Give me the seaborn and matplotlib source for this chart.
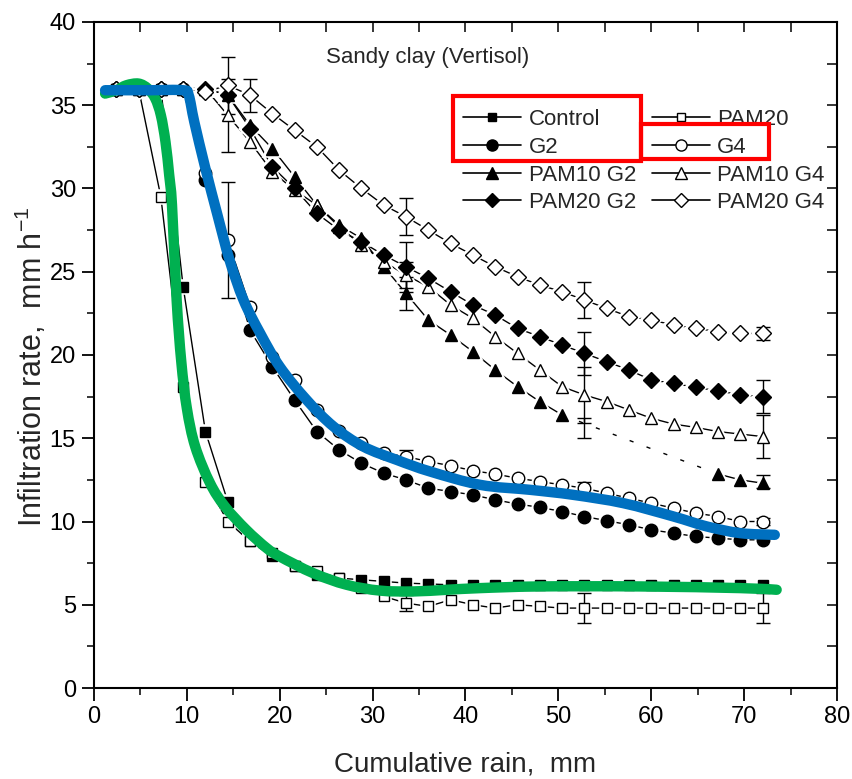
import numpy as np
import pandas as pd
import matplotlib
matplotlib.use("Agg")
import matplotlib.pyplot as plt
import seaborn as sns
from matplotlib.patches import Rectangle, PathPatch
from matplotlib.path import Path
from matplotlib.lines import Line2D
from matplotlib.ticker import MultipleLocator

# cumulative rain (mm) at each reading
rain = [2.4, 4.8, 7.2, 9.6, 12.0, 14.4, 16.8, 19.2, 21.6, 24.0,
        26.4, 28.8, 31.2, 33.6, 36.0, 38.4, 40.8, 43.2, 45.6, 48.0,
        50.4, 52.8, 55.2, 57.6, 60.0, 62.4, 64.8, 67.2, 69.6, 72.0]

control = [36, 36, 36, 24.1, 15.4, 11.2, 8.8, 7.9, 7.3, 6.8,
           6.6, 6.5, 6.4, 6.3, 6.25, 6.2, 6.2, 6.2, 6.2, 6.2,
           6.2, 6.2, 6.2, 6.2, 6.2, 6.2, 6.2, 6.2, 6.2, 6.2]
pam20 = [36, 36, 29.5, 18.1, 12.4, 10.0, 8.8, 8.1, 7.3, 7.0,
         6.6, 6.0, 5.5, 5.1, 4.9, 5.3, 5.0, 4.8, 5.0, 4.9,
         4.8, 4.8, 4.8, 4.8, 4.8, 4.8, 4.8, 4.8, 4.8, 4.8]
g2 = [36, 36, 36, 36, 30.5, 26.0, 21.5, 19.3, 17.3, 15.4,
      14.3, 13.5, 12.9, 12.5, 12.0, 11.8, 11.6, 11.3, 11.05, 10.85,
      10.6, 10.3, 10.05, 9.8, 9.5, 9.3, 9.1, 9.0, 8.9, 8.9]
g4 = [36, 36, 36, 36, 30.9, 26.9, 22.9, 19.9, 18.5, 16.7,
      15.45, 14.7, 14.1, 13.9, 13.6, 13.35, 13.05, 12.85, 12.6, 12.4,
      12.2, 12.0, 11.7, 11.4, 11.1, 10.8, 10.5, 10.3, 10.0, 10.0]
pam10_g2 = [36, 36, 36, 36, 36, 35.6, 33.8, 32.4, 30.7, 29.0,
            27.8, 27.0, 25.3, 23.7, 22.1, 21.2, 20.2, 19.1, 18.1, 17.2,
            16.4, np.nan, np.nan, np.nan, np.nan, np.nan, np.nan, 12.85, 12.5, 12.3]
pam10_g4 = [36, 36, 36, 36, 36, 34.4, 32.8, 31.0, 29.9, 29.0,
            27.7, 26.6, 25.6, 24.8, 24.1, 23.0, 22.2, 21.1, 20.1, 19.1,
            18.1, 17.6, 17.2, 16.7, 16.2, 15.85, 15.65, 15.4, 15.25, 15.1]
pam20_g2 = [36, 36, 36, 36, 36, 35.6, 33.6, 31.3, 30.0, 28.5,
            27.5, 26.8, 26.0, 25.3, 24.6, 23.8, 23.0, 22.4, 21.6, 21.1,
            20.6, 20.1, 19.6, 19.1, 18.5, 18.3, 18.05, 17.85, 17.6, 17.5]
pam20_g4 = [36, 36, 36, 36, 35.8, 36.2, 35.6, 34.5, 33.5, 32.5,
            31.1, 30.0, 29.0, 28.3, 27.5, 26.7, 26.0, 25.3, 24.7, 24.2,
            23.8, 23.3, 22.8, 22.3, 22.1, 21.8, 21.6, 21.4, 21.3, 21.3]

# error bars
err_rain = [14.4, 14.4, 14.4, 16.8, 33.6, 33.6, 33.6, 33.6, 33.6, 33.6,
            52.8, 52.8, 52.8, 52.8, 52.8, 52.8, 72.0, 72.0, 72.0, 72.0, 72.0, 72.0]
err_mean = [26.9, 34.4, 36.2, 35.6, 28.3, 25.3, 23.7, 24.8, 13.9, 5.1,
            23.3, 20.1, 17.6, 15.6, 12.0, 4.8, 21.3, 17.5, 15.1, 12.4, 10.0, 4.8]
err_sd = [3.5, 2.2, 1.7, 1.0, 1.1, 1.5, 1.0, 0.8, 0.4, 0.5,
          1.1, 1.3, 1.7, 0.6, 0.4, 0.9, 0.4, 1.0, 1.3, 0.4, 0.2, 0.9]

# hand-drawn trend curves on top of the plot
green_x = [1.2, 2.4, 3.5, 4.8, 5.8, 6.6, 7.2, 7.7, 8.1, 8.4, 8.9, 9.4, 10.0,
           10.9, 12.5, 14.1, 16.4, 18.6, 20.0, 23.6, 27.2, 30.8, 34.4, 38.0,
           41.6, 48.0, 58.8, 69.6, 73.5]
green_y = [35.7, 35.9, 36.2, 36.3, 36.0, 35.4, 34.4, 32.8, 30.8, 29.0, 23.3, 19.6, 16.8,
           14.5, 12.3, 10.9, 9.5, 8.4, 7.9, 6.9, 6.2, 5.85, 5.8, 5.9,
           6.0, 6.1, 6.1, 6.0, 5.9]
blue_x = [1.2, 2.4, 6.0, 9.6, 10.2, 10.8, 12.0, 13.3, 14.6, 16.1, 17.9,
          20.0, 22.9, 25.8, 29.0, 32.6, 36.2, 41.6, 47.0, 51.6, 57.0, 62.4,
          66.0, 69.6, 73.3]
blue_y = [35.9, 35.9, 35.9, 35.9, 35.6, 34.0, 31.2, 28.4, 25.7, 23.3, 21.3,
          19.3, 17.3, 15.7, 14.5, 13.7, 13.0, 12.2, 11.9, 11.6, 11.1, 10.3,
          9.7, 9.3, 9.2]

series_names = ['Control', 'PAM20', 'G2', 'G4', 'PAM10 G2', 'PAM10 G4', 'PAM20 G2', 'PAM20 G4']
series_vals = [control, pam20, g2, g4, pam10_g2, pam10_g4, pam20_g2, pam20_g4]
markers = ['s', 's', 'o', 'o', '^', '^', 'D', 'D']
filled = [True, False, True, False, True, False, True, False]
msizes = [7, 7, 9, 9, 9, 9, 8, 8]

df = pd.DataFrame({'rain': np.tile(rain, len(series_names)),
                   'rate': np.concatenate(series_vals),
                   'treatment': np.repeat(series_names, len(rain))})


def smooth_path(xs, ys):
    # Catmull-Rom through the read points, drawn as cubic Bezier segments
    pts = np.column_stack([xs, ys]).astype(float)
    verts = [pts[0]]
    codes = [Path.MOVETO]
    n = len(pts)
    for i in range(n - 1):
        p0 = pts[max(i - 1, 0)]
        p1 = pts[i]
        p2 = pts[i + 1]
        p3 = pts[min(i + 2, n - 1)]
        verts += [p1 + (p2 - p0) / 6, p2 - (p3 - p1) / 6, p2]
        codes += [Path.CURVE4] * 3
    return Path(verts, codes)


sns.set_theme(style="ticks")
plt.rcParams['font.family'] = ['Liberation Sans', 'DejaVu Sans']
plt.rcParams['mathtext.fontset'] = 'custom'
plt.rcParams['mathtext.rm'] = 'Liberation Sans'
plt.rcParams['mathtext.default'] = 'regular'

fig = plt.figure(figsize=(8.52, 7.79), dpi=100)
ax = fig.add_axes([0.1103, 0.1168, 0.8721, 0.855])

for name, mk, fl, ms in zip(series_names, markers, filled, msizes):
    sub = df[df['treatment'] == name]
    if name == 'PAM10 G2':
        ok = sub.dropna()
        first = ok[ok['rain'] <= 50.5]
        last = ok[ok['rain'] >= 67]
        sns.lineplot(data=first, x='rain', y='rate', ax=ax, color='black', lw=1.0,
                     sort=False, estimator=None, zorder=2)
        sns.lineplot(data=last, x='rain', y='rate', ax=ax, color='black', lw=1.0,
                     sort=False, estimator=None, zorder=2)
        gap = pd.concat([first.tail(1), last.head(1)])
        ax.plot(gap['rain'], gap['rate'], color='black', lw=1.0, ls=(0, (3, 10)), zorder=2)
    else:
        sns.lineplot(data=sub, x='rain', y='rate', ax=ax, color='black', lw=1.0,
                     sort=False, estimator=None, zorder=2)
    ax.plot(sub['rain'], sub['rate'], ls='none', marker=mk, ms=ms, mfc='white',
            mec='white', mew=4, zorder=3)
    ax.plot(sub['rain'], sub['rate'], ls='none', marker=mk, ms=ms,
            mfc='black' if fl else 'white', mec='black', mew=1.0, zorder=4)

ax.errorbar(err_rain, err_mean, yerr=err_sd, fmt='none', ecolor='black',
            elinewidth=1.0, capsize=5, capthick=1.0, zorder=3.5)

ax.add_patch(PathPatch(smooth_path(green_x, green_y), fill=False, ec='#00b050',
                       lw=7.5, capstyle='round', joinstyle='round', zorder=6))
ax.add_patch(PathPatch(smooth_path(blue_x, blue_y), fill=False, ec='#0070c0',
                       lw=7.5, capstyle='round', joinstyle='round', zorder=6))

ax.set_xlim(0, 80)
ax.set_ylim(0, 40)
ax.xaxis.set_major_locator(MultipleLocator(10))
ax.xaxis.set_minor_locator(MultipleLocator(5))
ax.yaxis.set_major_locator(MultipleLocator(5))
ax.yaxis.set_minor_locator(MultipleLocator(2.5))
ax.tick_params(which='major', direction='out', length=9, width=1.3, labelsize=17,
               colors='black', pad=4)
ax.tick_params(which='minor', direction='out', length=5, width=1.3)
for sp in ax.spines.values():
    sp.set_linewidth(1.5)
    sp.set_color('black')

top = ax.secondary_xaxis('top')
top.xaxis.set_major_locator(MultipleLocator(10))
top.xaxis.set_minor_locator(MultipleLocator(5))
top.tick_params(axis='x', which='both', direction='in', length=7, width=1.3, labeltop=False)
right = ax.secondary_yaxis('right')
right.yaxis.set_major_locator(MultipleLocator(5))
right.yaxis.set_minor_locator(MultipleLocator(2.5))
right.tick_params(axis='y', which='both', direction='in', length=7, width=1.3, labelright=False)

ax.set_xlabel('Cumulative rain,  mm', fontsize=20, labelpad=17)
ax.set_ylabel('Infiltration rate,  mm h$^{-1}$', fontsize=22)
ax.yaxis.set_label_coords(-0.06, 0.482)
ax.text(0.312, 0.946, 'Sandy clay (Vertisol)', transform=ax.transAxes,
        fontsize=16, ha='left', va='center')

handles = []
for name, mk, fl, ms in zip(series_names, markers, filled, msizes):
    handles.append(Line2D([], [], color='black', lw=1.2, marker=mk, ms=ms - 1,
                          mfc='black' if fl else 'white', mec='black', mew=1.0))
order = [0, 2, 4, 6, 1, 3, 5, 7]
leg = ax.legend([handles[i] for i in order], [series_names[i] for i in order],
                ncol=2, loc='upper left', bbox_to_anchor=(0.497, 0.869),
                frameon=False, fontsize=16, borderpad=0, handlelength=2.6,
                handletextpad=0.35, columnspacing=0.7, labelspacing=0.3,
                borderaxespad=0)
leg.set_zorder(7)

# red boxes drawn over the legend
ax.add_patch(Rectangle((0.4832, 0.7913), 0.2530, 0.0976, transform=ax.transAxes,
                       fill=False, ec='red', lw=3, zorder=8, clip_on=False))
ax.add_patch(Rectangle((0.7362, 0.7938), 0.1723, 0.0526, transform=ax.transAxes,
                       fill=False, ec='red', lw=3, zorder=8, clip_on=False))

fig.savefig('out.png', dpi=100)
